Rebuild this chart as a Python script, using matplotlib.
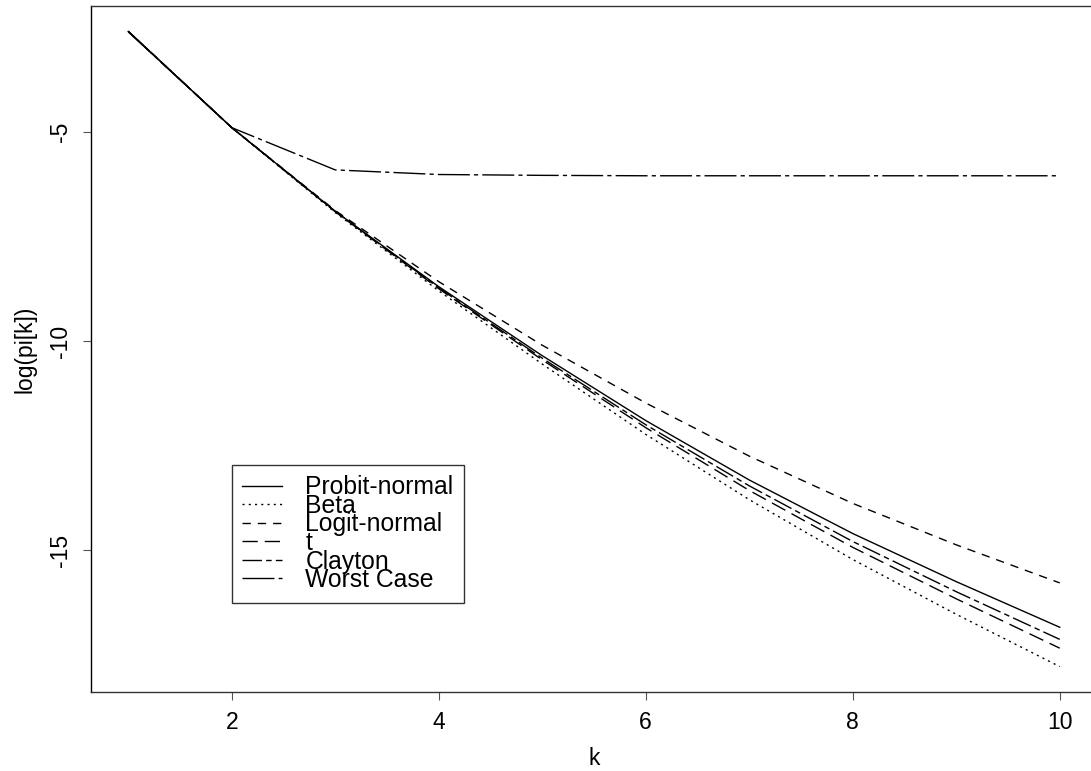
import numpy as np
import matplotlib
matplotlib.use('Agg')
import matplotlib.pyplot as plt

plt.rcParams['font.family'] = ['Liberation Sans', 'DejaVu Sans']

# number of defaults k and log probabilities
k             = [1, 2, 3, 4, 5, 6, 7, 8, 9, 10]
probit_normal = [-2.60, -4.90, -6.90, -8.70, -10.35, -11.90, -13.32, -14.60, -15.75, -16.84]
beta          = [-2.60, -4.90, -6.93, -8.80, -10.55, -12.23, -13.79, -15.22, -16.53, -17.78]
logit_normal  = [-2.60, -4.90, -6.88, -8.58, -10.10, -11.48, -12.75, -13.88, -14.87, -15.78]
t_copula      = [-2.60, -4.90, -6.91, -8.75, -10.45, -12.07, -13.57, -14.93, -16.16, -17.34]
clayton       = [-2.60, -4.90, -6.90, -8.73, -10.41, -12.00, -13.46, -14.79, -15.99, -17.13]
worst_case    = [-2.61, -4.90, -5.91, -6.02, -6.04, -6.05, -6.05, -6.05, -6.05, -6.05]

labels = ['Probit-normal', 'Beta', 'Logit-normal', 't', 'Clayton', 'Worst Case']
series = [probit_normal, beta, logit_normal, t_copula, clayton, worst_case]
styles = ['-', (0, (1.5, 3)), (0, (6, 5)), (0, (11, 5)), (0, (14, 3, 4, 3)), (0, (23, 3, 3, 3))]

W, H = 1091, 771
fig = plt.figure(figsize=(W/100, H/100), dpi=100)
# R style plot region, running slightly past the right edge of the image
ax = fig.add_axes([91/W, 1 - 692/H, (1097 - 91)/W, (692 - 6)/H])

for y, lab, ls in zip(series, labels, styles):
    ax.plot(k, y, color='black', lw=1.0, linestyle=ls, label=lab)

# R default axis extent: data range plus 4% on each side
allv = np.concatenate([np.asarray(s) for s in series])
ylo, yhi = allv.min(), allv.max()
pad = 0.04*(yhi - ylo)
ax.set_ylim(ylo - pad, yhi + pad)
ax.set_xlim(1 - 0.04*9, 10 + 0.04*9)

ax.set_xticks([2, 4, 6, 8, 10])
ax.set_yticks([-5, -10, -15])
ax.set_yticklabels(['-5', '-10', '-15'], rotation=90, va='center')
ax.tick_params(axis='both', direction='out', length=6, width=0.8, color='#555555',
               labelsize=16.5, pad=8)

for side in ['top', 'bottom']:
    ax.spines[side].set_linestyle((0, (1, 1)))
    ax.spines[side].set_color('#333333')
    ax.spines[side].set_linewidth(1.0)
ax.spines['left'].set_linewidth(1.0)
ax.spines['right'].set_visible(False)

ax.set_xlabel('k', fontsize=16.5)
ax.xaxis.set_label_coords(0.5, -0.080)
ax.set_ylabel('log(pi[k])', fontsize=16.5)
ax.yaxis.set_label_coords(-0.054, 0.5)

leg = ax.legend(loc='upper left', bbox_to_anchor=(0.140, 0.331), borderaxespad=0,
                fontsize=17.8, fancybox=False, frameon=True, edgecolor='black',
                handlelength=1.62, handletextpad=0.93, labelspacing=-0.22,
                borderpad=0.42)
leg.get_frame().set_linewidth(1.0)

plt.savefig('out.png', dpi=100)
plt.close()
